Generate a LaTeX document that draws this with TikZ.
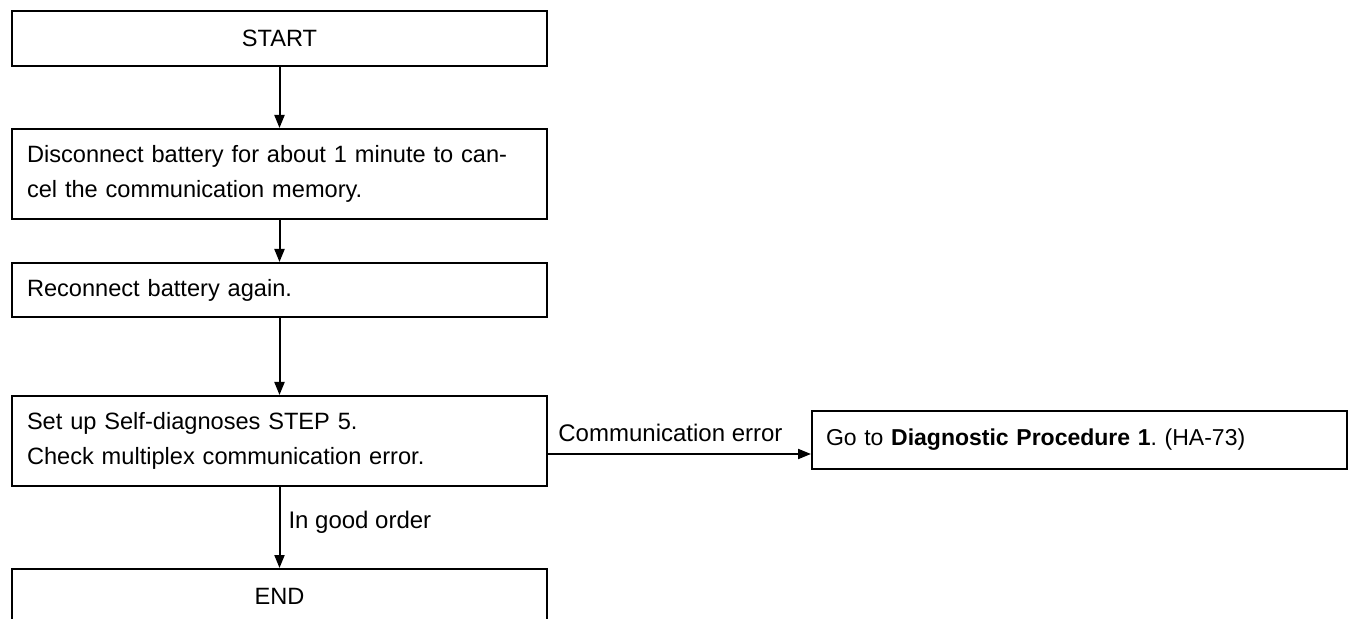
\documentclass[tikz,border=0pt]{standalone}
\usepackage{fontspec}
\setmainfont{Liberation Sans}
\usetikzlibrary{arrows.meta,positioning}

\begin{document}
\begin{tikzpicture}[x=0.5pt, y=-0.5pt,
    stepbox/.style={draw, line width=1pt, anchor=north west, minimum width=267.5pt,
                    text width=252.5pt, inner xsep=7.5pt, align=left,
                    font=\fontsize{11.8}{17.5}\selectfont},
    endbox/.style={stepbox, align=center},
    flow/.style={-{Triangle[length=6.5pt, width=5pt]}, line width=1pt},
    lbl/.style={font=\fontsize{12}{14}\selectfont, inner sep=0pt}
]
\useasboundingbox (0,0) rectangle (1353,619);

% Ablauf
\node[endbox, minimum height=27.5pt] (start) at (11,10) {START};
\node[stepbox, minimum height=45pt] (disc) at (11,128)
    {Disconnect battery for about 1 minute to can-\\cel the communication memory.};
\node[stepbox, minimum height=27pt] (reconn) at (11,262) {Reconnect battery again.};
\node[stepbox, minimum height=45pt] (check) at (11,395)
    {Set up Self-diagnoses STEP 5.\\Check multiplex communication error.};
\node[endbox, minimum height=27.5pt] (finish) at (11,568) {END};

% Verzweigung
\node[stepbox, minimum height=29pt, inner xsep=7pt, text width=253.5pt,
      font=\fontsize{11.5}{14}\selectfont] (goto) at (811,410)
    {Go to \textbf{Diagnostic Procedure 1}.\ (HA-73)};

% Pfeile
\draw[flow] (start) -- (disc);
\draw[flow] (disc) -- (reconn);
\draw[flow] (reconn) -- (check);
\draw[flow] (check) -- node[lbl, right=4pt, pos=0.44] (good) {In good order} (finish);
\coordinate (err) at ([yshift=-6.5pt]check.east);
\draw[flow] (err) -- (err -| goto.west);
\node[lbl, anchor=south west] (errlbl) at ([xshift=5pt, yshift=6pt]err) {Communication error};

\end{tikzpicture}
\end{document}
